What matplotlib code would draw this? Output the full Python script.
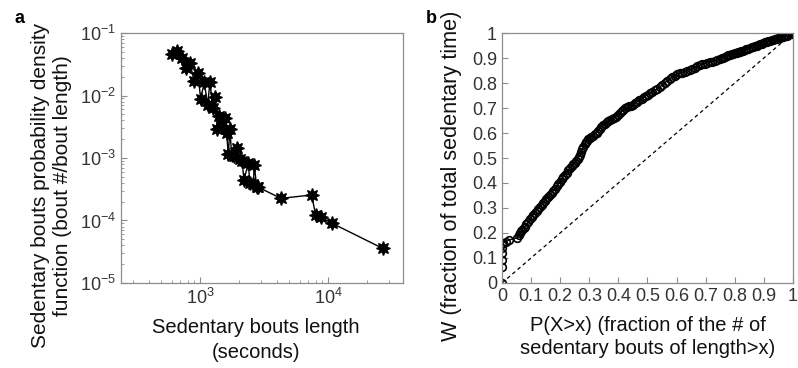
import matplotlib
matplotlib.use("Agg")
import matplotlib.pyplot as plt
from matplotlib.ticker import LogLocator, FixedLocator, FixedFormatter

plt.rcParams['font.family'] = ['Liberation Sans', 'DejaVu Sans']
plt.rcParams['mathtext.fontset'] = 'custom'
plt.rcParams['mathtext.rm'] = 'Liberation Sans'

# Panel a: probability density of sedentary bout lengths
bout_len = [601, 658, 722, 778, 835, 898, 964, 1012, 1081, 1148, 1197, 1256, 1309,
            1366, 1416, 1477, 1560, 1616, 1664, 1715, 1767, 1853, 1957, 2054, 2130,
            2207, 2385, 2459, 2610, 2657, 2773, 2856, 4295, 7450, 8010, 8770, 10800, 26700]
pdf_val = [0.0456, 0.0521, 0.0402, 0.0279, 0.0335, 0.0171, 0.0232, 0.00879, 0.01626,
           0.00697, 0.01663, 0.00638, 0.00957, 0.00291, 0.0047, 0.00325, 0.00441,
           0.00248, 0.001146, 0.00288, 0.001117, 0.001076, 0.00146, 0.000953, 0.000905,
           0.000445, 0.000823, 0.000394, 0.000384, 0.000773, 0.000348, 0.00034,
           0.000226, 0.000256, 0.0001225, 0.0001125, 9.0e-5, 3.59e-5]

# Panel b: W vs P(X>x)
p_frac = [0, 0, 0, 0, 0, 0, 0.005, 0.014, 0.024,
          0.053, 0.058, 0.062, 0.066, 0.07, 0.075, 0.079, 0.084, 0.09, 0.096, 0.102,
          0.107, 0.113, 0.119, 0.125, 0.13, 0.136, 0.141, 0.147, 0.153, 0.159, 0.165,
          0.171, 0.176, 0.182, 0.188, 0.193, 0.199, 0.205, 0.21, 0.216, 0.222, 0.228,
          0.234, 0.24, 0.245, 0.25, 0.255, 0.26, 0.264, 0.268, 0.272, 0.276, 0.28,
          0.285, 0.289, 0.293, 0.297, 0.302, 0.307, 0.313, 0.319, 0.325, 0.33, 0.336,
          0.342, 0.348, 0.354, 0.36, 0.365, 0.371, 0.378, 0.385, 0.392, 0.4, 0.406,
          0.412, 0.417, 0.423, 0.43, 0.437, 0.444, 0.451, 0.458, 0.465, 0.472, 0.48,
          0.487, 0.494, 0.501, 0.509, 0.517, 0.526, 0.534, 0.543, 0.551, 0.56, 0.568,
          0.577, 0.586, 0.595, 0.603, 0.612, 0.62, 0.629, 0.637, 0.646, 0.654, 0.663,
          0.671, 0.68, 0.688, 0.697, 0.706, 0.715, 0.723, 0.732, 0.74, 0.749, 0.755,
          0.76, 0.766, 0.772, 0.778, 0.783, 0.789, 0.795, 0.8, 0.806, 0.812, 0.818,
          0.823, 0.829, 0.835, 0.84, 0.846, 0.852, 0.858, 0.863, 0.869, 0.875, 0.88,
          0.886, 0.892, 0.898, 0.904, 0.91, 0.915, 0.921, 0.927, 0.932, 0.938, 0.944,
          0.95, 0.955, 0.96, 0.966, 0.972, 0.978, 0.984, 0.99, 0.995, 1.0]
w_frac = [0, 0.065, 0.092, 0.119, 0.139, 0.156, 0.16, 0.165, 0.172,
          0.181, 0.19, 0.201, 0.207, 0.212, 0.219, 0.225, 0.234, 0.245, 0.255, 0.265,
          0.272, 0.28, 0.289, 0.297, 0.304, 0.312, 0.319, 0.327, 0.335, 0.343, 0.351,
          0.359, 0.368, 0.377, 0.386, 0.395, 0.405, 0.415, 0.423, 0.432, 0.441, 0.45,
          0.459, 0.468, 0.475, 0.482, 0.489, 0.495, 0.503, 0.512, 0.524, 0.535, 0.546,
          0.557, 0.564, 0.57, 0.575, 0.579, 0.585, 0.59, 0.596, 0.601, 0.609, 0.617,
          0.625, 0.632, 0.638, 0.643, 0.648, 0.652, 0.657, 0.661, 0.666, 0.672, 0.68,
          0.687, 0.693, 0.699, 0.703, 0.707, 0.71, 0.714, 0.72, 0.726, 0.731, 0.737,
          0.743, 0.748, 0.753, 0.759, 0.765, 0.771, 0.778, 0.785, 0.793, 0.802, 0.81,
          0.818, 0.825, 0.83, 0.835, 0.839, 0.842, 0.845, 0.849, 0.853, 0.857, 0.862,
          0.867, 0.872, 0.875, 0.878, 0.881, 0.883, 0.886, 0.889, 0.892, 0.895, 0.899,
          0.902, 0.905, 0.908, 0.911, 0.913, 0.916, 0.918, 0.92, 0.922, 0.924, 0.926,
          0.928, 0.93, 0.933, 0.935, 0.938, 0.94, 0.943, 0.945, 0.948, 0.95, 0.953,
          0.955, 0.958, 0.96, 0.963, 0.965, 0.967, 0.969, 0.971, 0.973, 0.975, 0.977,
          0.979, 0.981, 0.984, 0.986, 0.988, 0.99, 0.993, 0.995, 0.998, 1.0]
diag = [0, 1]
b_ticks = [0, 0.1, 0.2, 0.3, 0.4, 0.5, 0.6, 0.7, 0.8, 0.9, 1]
b_labels = ['0', '0.1', '0.2', '0.3', '0.4', '0.5', '0.6', '0.7', '0.8', '0.9', '1']

spine_c = '#8c8c8c'
tick_c = '#333333'
xlab_fs = 14.5
ylab_fs_a = 15.0
ylab_fs_b = 15.6
tick_fs = 13

fig = plt.figure(figsize=(7.98, 3.68), dpi=100)

ax1 = fig.add_axes([0.1516, 0.231, 0.3534, 0.6793])
ax1.plot(bout_len, pdf_val, color='black', lw=1, marker=(8, 1, 0), ms=10,
         mfc='black', mec='black')
ax1.set_xscale('log')
ax1.set_yscale('log')
ax1.set_xlim(241.5, 38550)
ax1.set_ylim(1e-5, 1e-1)
ax1.yaxis.set_major_locator(LogLocator(base=10, numticks=10))
ax1.xaxis.set_major_locator(FixedLocator([1e3, 1e4]))
ax1.xaxis.set_minor_locator(LogLocator(base=10, subs=range(2, 10), numticks=10))
ax1.yaxis.set_minor_locator(LogLocator(base=10, subs=range(2, 10), numticks=10))
ax1.set_xlabel('Sedentary bouts length\n(seconds)', fontsize=xlab_fs, linespacing=1.45,
               va='center')
ax1.xaxis.set_label_coords(0.479, -0.228)
ax1.set_ylabel('Sedentary bouts probability density\nfunction (bout #/bout length)',
               fontsize=ylab_fs_a, linespacing=1.2, va='center')
ax1.yaxis.set_label_coords(-0.245, 0.39)

ax2 = fig.add_axes([0.629, 0.231, 0.3647, 0.6793])
ax2.plot(diag, diag, color='black', lw=0.9, ls=(0, (3, 2.5)))
ax2.plot(p_frac, w_frac, color='black', lw=1, marker='o', ms=5.5, mfc='none',
         mec='black', mew=1.2)
ax2.set_xlim(0, 1)
ax2.set_ylim(0, 1)
ax2.xaxis.set_major_locator(FixedLocator(b_ticks))
ax2.xaxis.set_major_formatter(FixedFormatter(b_labels))
ax2.yaxis.set_major_locator(FixedLocator(b_ticks))
ax2.yaxis.set_major_formatter(FixedFormatter(b_labels))
ax2.set_xlabel('P(X>x) (fraction of the # of\nsedentary bouts of length>x)',
               fontsize=xlab_fs, linespacing=1.25, va='center')
ax2.xaxis.set_label_coords(0.502, -0.216)
ax2.set_ylabel('W (fraction of total sedentary time)', fontsize=ylab_fs_b, va='center')
ax2.yaxis.set_label_coords(-0.172, 0.43)

for ax in (ax1, ax2):
    for s in ax.spines.values():
        s.set_color(spine_c)
        s.set_linewidth(0.9)
    ax.tick_params(which='both', direction='in', colors=spine_c, labelcolor=tick_c,
                   labelsize=tick_fs)
    ax.tick_params(which='major', length=4)
    ax.tick_params(which='minor', length=2)
    ax.xaxis.label.set_color('#111111')
    ax.yaxis.label.set_color('#111111')

fig.text(0.025, 0.951, 'a', fontsize=13, fontweight='bold', va='center', ha='center')
fig.text(0.54, 0.951, 'b', fontsize=13, fontweight='bold', va='center', ha='center')

fig.savefig('out.png', dpi=100)
